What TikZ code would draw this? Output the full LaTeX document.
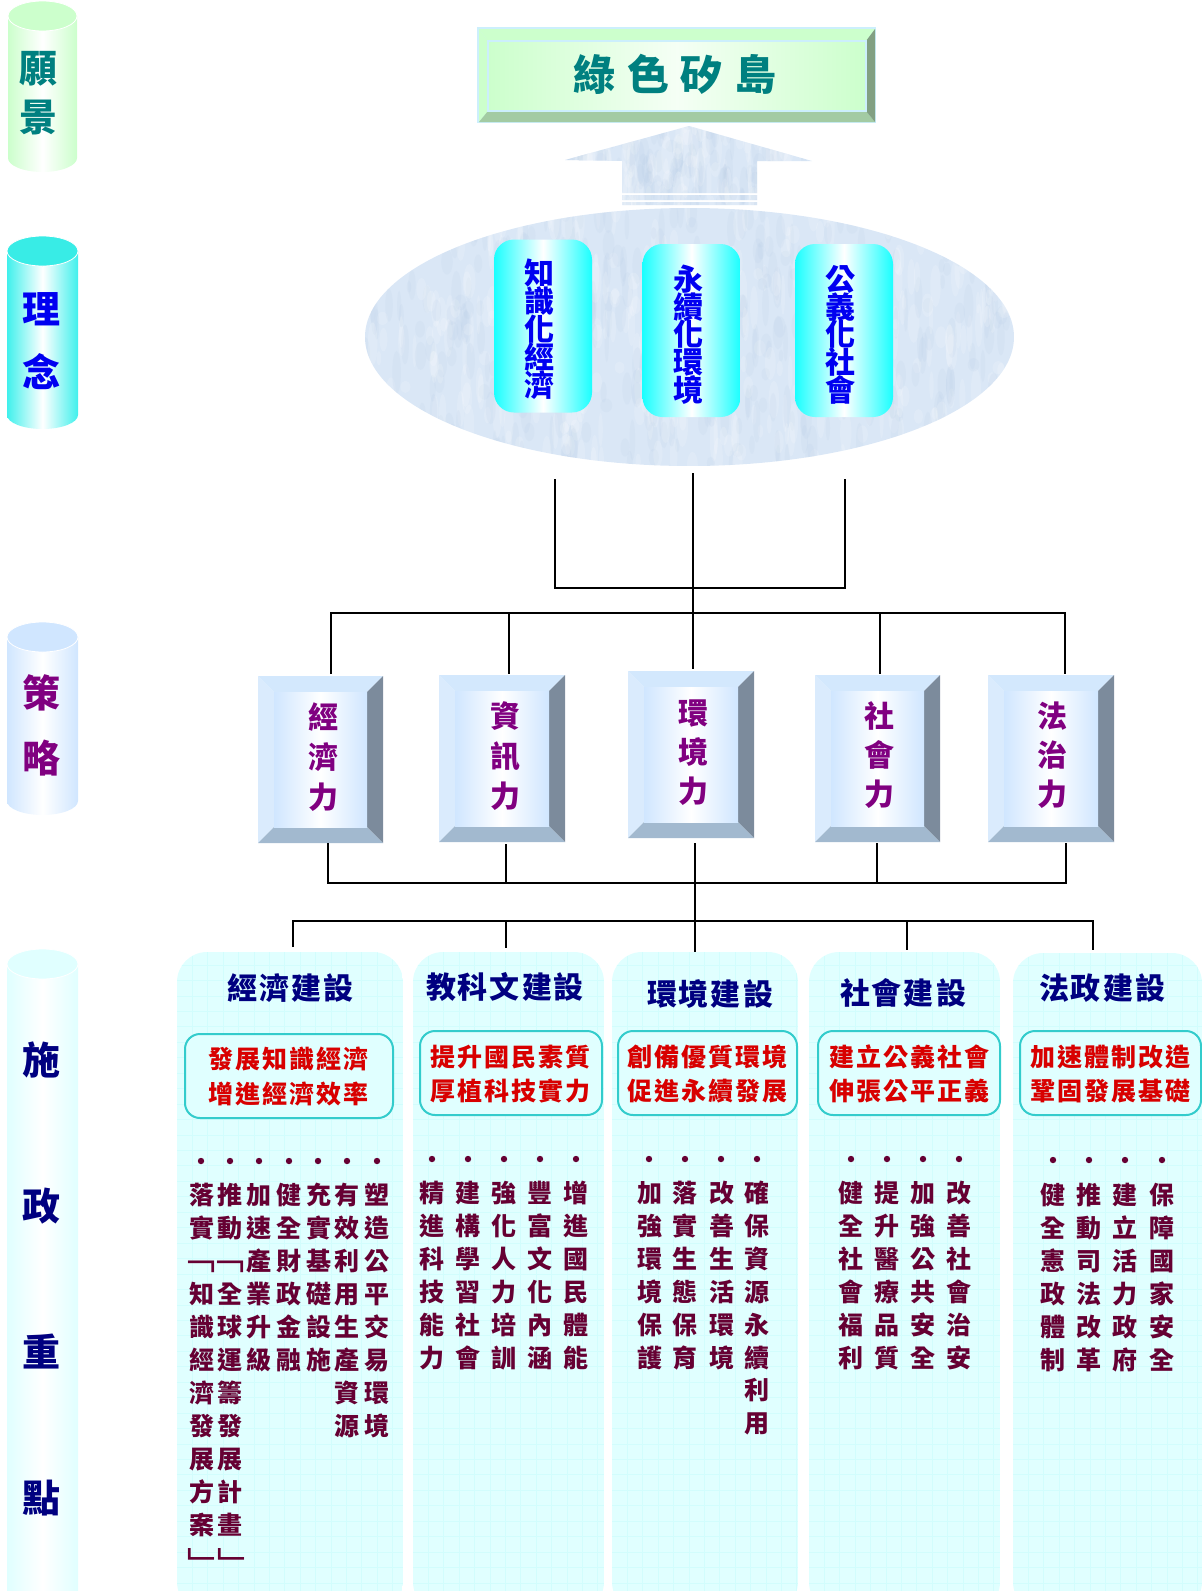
\documentclass[tikz,border=0pt]{standalone}
\usepackage{fontspec}
\setmainfont{Noto Sans CJK TC}
\usetikzlibrary{shapes.geometric}
\definecolor{tealtxt}{HTML}{008080}
\definecolor{bluetxt}{HTML}{0000F0}
\definecolor{purptxt}{HTML}{800080}
\definecolor{navytxt}{HTML}{000080}
\definecolor{redtxt}{HTML}{D80000}
\definecolor{martxt}{HTML}{660033}
\definecolor{pale}{HTML}{E0FFFF}
\definecolor{gridc}{HTML}{D2FDFD}
\definecolor{frame}{HTML}{33CCCC}
\definecolor{texb}{HTML}{DAE7F6}
\definecolor{C2top}{HTML}{38ECE6}
\definecolor{C2side}{HTML}{40F0EC}
\definecolor{GreenA}{HTML}{CCFFCC}
\definecolor{BotG}{HTML}{A3CBA3}
\definecolor{RightG}{HTML}{82A082}
\definecolor{CapC}{HTML}{1AFFFF}
\definecolor{TopB}{HTML}{D3E8FD}
\definecolor{RightB}{HTML}{7C8B9C}
\definecolor{BotB}{HTML}{A2B9CF}
\definecolor{FaceB}{HTML}{D0E6FF}
\definecolor{DarkTex}{HTML}{B4CAE4}
\newlength\vw
\def\vs#1{\ifx#1\relax\else\hbox to \vw{\hss#1\hss}\expandafter\vs\fi}
\def\hs#1{\ifx#1\relax\else\hbox to \vw{\hss#1\hss}\expandafter\hs\fi}
% vertical text: style, name, x, y of first char centre, pitch px, size px, text
\newcommand\vtxt[7]{%
  \pgfmathsetmacro\yb{#4+.38*#6}%
  \pgfmathsetmacro\fs{#6*.5}\pgfmathsetmacro\pitch{#5*.5}%
  \node[lbl,#1] (#2) at (#3,\yb) {\fontsize{\fs pt}{\pitch pt}\selectfont\vw=1.3em\vtop{\baselineskip=\pitch pt\lineskiplimit=-100pt\lineskip=0pt\vs #7\relax}};}
\newcommand\htxt[7]{%
  \pgfmathsetmacro\yb{#4+.38*#6}%
  \pgfmathsetmacro\fs{#6*.5}\pgfmathsetmacro\pitch{#5*.5}%
  \node[lbl,#1] (#2) at (#3,\yb) {\fontsize{\fs pt}{\pitch pt}\selectfont\vw=\pitch pt\hbox{\hs #7\relax}};}
% cylinder: name, x1, y1, x2, y2, side colour, top colour
\newcommand\cyl[7]{%
  \pgfmathsetmacro\xc{(#2+#4)/2}\pgfmathsetmacro\ya{#3+15}\pgfmathsetmacro\yz{#5-14}%
  \pgfmathsetmacro\rx{(#4-#2)/2}\pgfmathsetmacro\kx{.55*\rx}\pgfmathsetmacro\ky{#5-14+7.7}%
  \shade[left color=#6,right color=#6,middle color=white]
    (#2,\ya) -- (#2,\yz) .. controls (#2,\ky) and ({\xc-\kx},#5) .. (\xc,#5)
    .. controls ({\xc+\kx},#5) and (#4,\ky) .. (#4,\yz) -- (#4,\ya) -- cycle;
  \node[ellipse,inner sep=0,minimum width=\rx*1pt,minimum height=15pt,fill=#7,draw=white,line width=.4pt] (#1) at (\xc,\ya) {};}
\tikzset{
  lbl/.style={inner sep=0,anchor=base},
  teal/.style={text=tealtxt,font=\bfseries},
  blu/.style={text=bluetxt,font=\bfseries},
  pur/.style={text=purptxt,font=\bfseries},
  nav/.style={text=navytxt,font=\bfseries},
  rd/.style={text=redtxt,font=\bfseries},
  mar/.style={text=martxt,font=\bfseries},
  mreg/.style={text=martxt},
  capsule/.style={rectangle,rounded corners=10pt,inner sep=0,minimum width=49pt,minimum height=86.5pt,left color=CapC,right color=CapC,middle color=white},
  redbox/.style={rectangle,rounded corners=7.5pt,inner sep=0,draw=frame,line width=1pt,fill=pale},
  bul/.style={circle,fill=martxt,inner sep=0,minimum size=3.2pt},
  wire/.style={line width=1.1pt,black},
  box/.style={rectangle,inner sep=0}
}
\newcommand\blueb[5]{% name x1 y1 x2 y2
  \pgfmathsetmacro\ia{#2+16}\pgfmathsetmacro\ib{#3+16}\pgfmathsetmacro\ic{#4-16}\pgfmathsetmacro\id{#5-16}%
  \fill[TopB] (#2,#3) -- (#4,#3) -- (\ic,\ib) -- (\ia,\ib) -- cycle;
  \fill[TopB!85!white] (#2,#3) -- (\ia,\ib) -- (\ia,\id) -- (#2,#5) -- cycle;
  \fill[RightB] (#4,#3) -- (\ic,\ib) -- (\ic,\id) -- (#4,#5) -- cycle;
  \fill[BotB] (#2,#5) -- (\ia,\id) -- (\ic,\id) -- (#4,#5) -- cycle;
  \shade[left color=FaceB,right color=FaceB,middle color=white] (\ia,\ib) rectangle (\ic,\id);
  \pgfmathsetmacro\cx{(#2+#4)/2}\pgfmathsetmacro\cy{(#3+#5)/2}\pgfmathsetmacro\bw{(#4-#2)*.5}\pgfmathsetmacro\bh{(#5-#3)*.5}%
  \node[box,minimum width=\bw pt,minimum height=\bh pt] (#1) at (\cx,\cy) {};}
\newcommand\panel[4]{% name x1 y1 x2
  \begin{scope}
  \clip[rounded corners=15pt] (#2,#3) rectangle (#4,1612);
  \fill[pale] (#2,#3) rectangle (#4,1612);
  \foreach \k in {1,...,14}{\pgfmathsetmacro\gx{#2+15.4*\k}\draw[gridc,line width=.4pt] (\gx,#3) -- (\gx,1612);}
  \foreach \k in {0,...,42}{\pgfmathsetmacro\gy{1583-15.45*\k}\draw[gridc,line width=.4pt] (#2,\gy) -- (#4,\gy);}
  \end{scope}
  \pgfmathsetmacro\cx{(#2+#4)/2}\pgfmathsetmacro\cy{(#3+1591)/2}\pgfmathsetmacro\bw{(#4-#2)*.5}\pgfmathsetmacro\bh{(1591-#3)*.5}%
  \node[box,minimum width=\bw pt,minimum height=\bh pt] (#1) at (\cx,\cy) {};}
\newcommand\rbox[5]{% name x1 y1 x2 y2
  \pgfmathsetmacro\cx{(#2+#4)/2}\pgfmathsetmacro\cy{(#3+#5)/2}\pgfmathsetmacro\bw{(#4-#2)*.5}\pgfmathsetmacro\bh{(#5-#3)*.5}%
  \node[redbox,minimum width=\bw pt,minimum height=\bh pt] (#1) at (\cx,\cy) {};}
\newcommand\texture[6]{% seed x1 y1 x2 y2 count
  \pgfmathsetseed{#1}
  \foreach \i in {1,...,#6}{
    \pgfmathsetmacro\tx{#2+rnd*(#4-#2)}\pgfmathsetmacro\ty{#3+rnd*(#5-#3)}
    \pgfmathsetmacro\trx{2+rnd*4}\pgfmathsetmacro\try{6+rnd*16}\pgfmathsetmacro\tc{rnd}
    \ifdim\tc pt<.5pt
      \fill[white,opacity=.16] (\tx,\ty) ellipse [x radius=\trx,y radius=\try];
    \else
      \fill[DarkTex,opacity=.13] (\tx,\ty) ellipse [x radius=\trx,y radius=\try];
    \fi}}
\begin{document}
\begin{tikzpicture}[x=.5pt,y=-.5pt]
\useasboundingbox (0,0) rectangle (1202,1591);
\clip (0,0) rectangle (1202,1591);
% left cylinders
\cyl{c1}{8}{1}{77}{172}{GreenA}{GreenA}
\cyl{c2}{7}{236}{78}{429}{C2side}{C2top}
\cyl{c3}{7}{622}{78}{815}{FaceB}{FaceB}
\cyl{c4}{7}{949}{78}{1610}{pale}{pale}
\vtxt{teal}{t11}{39}{68}{49}{38}{願景}
\vtxt{blu}{t21}{41}{309}{63}{38}{理念}
\vtxt{pur}{t31}{42}{693}{65}{38}{策略}
\vtxt{nav}{t41}{41}{1060}{146}{38}{施政重點}
% top box
\fill[cyan!20!white] (477,27) rectangle (876,123);
\fill[GreenA] (479,29) -- (875,29) -- (866,41) -- (488,41) -- cycle;
\fill[GreenA] (479,29) -- (488,41) -- (488,111) -- (479,122) -- cycle;
\fill[BotG] (479,122) -- (488,111) -- (866,111) -- (875,122) -- cycle;
\fill[RightG] (875,29) -- (866,41) -- (866,111) -- (875,122) -- cycle;
\shade[left color=GreenA,right color=GreenA,middle color=GreenA!20!white,draw=cyan!20!white,line width=.8pt] (488,41) rectangle (866,111);
\node[box,minimum width=199.5pt,minimum height=48pt] (vision) at (676.5,75) {};
\htxt{teal}{vt}{675}{75}{53.5}{42}{綠色矽島}
% arrow
\begin{scope}
\clip (689,126) -- (812,161) -- (757,161) -- (757,193) -- (622,193) -- (622,161) -- (565,160) -- cycle
      (622,195) rectangle (757,200) (622,202) rectangle (757,205);
\fill[texb] (560,120) rectangle (815,210);
\texture{3}{560}{120}{815}{210}{250}
\end{scope}
% ellipse
\begin{scope}
\clip (689.5,337) ellipse [x radius=324.5,y radius=129];
\fill[texb] (365,208) rectangle (1014,466);
\texture{5}{365}{208}{1014}{466}{800}
\end{scope}
\node[ellipse,inner sep=0,minimum width=324.5pt,minimum height=129pt] (idea) at (689.5,337) {};
\node[capsule] (k1) at (543,326) {};
\node[capsule] (k2) at (691.5,330.5) {};
\node[capsule] (k3) at (844,330.5) {};
\vtxt{blu}{k1t}{539}{273}{28}{30}{知識化經濟}
\vtxt{blu}{k2t}{688}{279}{27.7}{30}{永續化環境}
\vtxt{blu}{k3t}{840}{279}{27.7}{30}{公義化社會}
% connectors upper
\coordinate (a1) at (555,479); \coordinate (a1b) at (555,588);
\coordinate (a3) at (845,479); \coordinate (a3b) at (845,588);
\coordinate (a2) at (693,473); \coordinate (a2b) at (693,669);
\draw[wire] (a1) -- (a1b) -- (a3b) -- (a3);
\draw[wire] (a2) -- (a2b);
\coordinate (b1) at (331,674); \coordinate (b1t) at (331,613);
\coordinate (b2) at (509,674); \coordinate (b2t) at (509,613);
\coordinate (b4) at (880,674); \coordinate (b4t) at (880,613);
\coordinate (b5) at (1065,674); \coordinate (b5t) at (1065,613);
\draw[wire] (b1) -- (b1t) -- (b5t) -- (b5);
\draw[wire] (b2t) -- (b2);
\draw[wire] (b4t) -- (b4);
% strategy boxes
\blueb{s1}{258}{676}{383}{843}
\blueb{s2}{439}{675}{565}{842}
\blueb{s3}{628}{671}{754}{838}
\blueb{s4}{815}{675}{940}{842}
\blueb{s5}{988}{675}{1114}{842}
\vtxt{pur}{s1t}{323}{717}{40}{30}{經濟力}
\vtxt{pur}{s2t}{505}{716}{40}{30}{資訊力}
\vtxt{pur}{s3t}{693}{713}{39}{30}{環境力}
\vtxt{pur}{s4t}{879}{716}{39}{30}{社會力}
\vtxt{pur}{s5t}{1052}{716}{39}{30}{法治力}
% connectors lower
\coordinate (d1) at (328,843); \coordinate (d1b) at (328,883);
\coordinate (d2) at (506,844); \coordinate (d2b) at (506,883);
\coordinate (d4) at (877,843); \coordinate (d4b) at (877,883);
\coordinate (d5) at (1066,843); \coordinate (d5b) at (1066,883);
\coordinate (d3) at (695,843); \coordinate (d3b) at (695,952);
\draw[wire] (d1) -- (d1b) -- (d5b) -- (d5);
\draw[wire] (d2) -- (d2b);
\draw[wire] (d4) -- (d4b);
\draw[wire] (d3) -- (d3b);
\coordinate (e1) at (293,947); \coordinate (e1t) at (293,921);
\coordinate (e2) at (506,948); \coordinate (e2t) at (506,921);
\coordinate (e4) at (907,950); \coordinate (e4t) at (907,921);
\coordinate (e5) at (1093,950); \coordinate (e5t) at (1093,921);
\draw[wire] (e1) -- (e1t) -- (e5t) -- (e5);
\draw[wire] (e2t) -- (e2);
\draw[wire] (e4t) -- (e4);
% panels
\panel{p1}{177}{952}{403}
\panel{p2}{413}{952}{604}
\panel{p3}{612}{952}{798}
\panel{p4}{809}{952}{1000}
\panel{p5}{1013}{953}{1202}
\htxt{nav}{p1t}{290.5}{988}{32}{30}{經濟建設}
\htxt{nav}{p2t}{505}{987}{32}{30}{教科文建設}
\htxt{nav}{p3t}{710}{994}{32}{30}{環境建設}
\htxt{nav}{p4t}{903}{993}{32}{30}{社會建設}
\htxt{nav}{p5t}{1102}{988}{32}{30}{法政建設}
\rbox{r1}{185}{1034}{393}{1118}
\rbox{r2}{420}{1031}{602}{1115}
\rbox{r3}{618}{1031}{797}{1115}
\rbox{r4}{818}{1031}{1000}{1115}
\rbox{r5}{1020}{1031}{1201}{1115}
\htxt{rd}{r1a}{288}{1059}{27}{25}{發展知識經濟}
\htxt{rd}{r1b}{288}{1094}{27}{25}{增進經濟效率}
\htxt{rd}{r2a}{510}{1057}{27}{25}{提升國民素質}
\htxt{rd}{r2b}{510}{1091}{27}{25}{厚植科技實力}
\htxt{rd}{r3a}{707}{1057}{27}{25}{創備優質環境}
\htxt{rd}{r3b}{707}{1091}{27}{25}{促進永續發展}
\htxt{rd}{r4a}{909}{1057}{27}{25}{建立公義社會}
\htxt{rd}{r4b}{909}{1091}{27}{25}{伸張公平正義}
\htxt{rd}{r5a}{1110}{1057}{27}{25}{加速體制改造}
\htxt{rd}{r5b}{1110}{1091}{27}{25}{鞏固發展基礎}
% bullets
\foreach \n/\x in {1/201,2/230,3/259,4/289,5/318,6/347,7/377}{\node[bul] (ba\n) at (\x,1161) {};}
\foreach \n/\x in {1/432,2/468,3/504,4/540,5/576}{\node[bul] (bb\n) at (\x,1159) {};}
\foreach \n/\x in {1/649,2/685,3/721,4/757}{\node[bul] (bc\n) at (\x,1159) {};}
\foreach \n/\x in {1/851,2/887,3/923,4/959}{\node[bul] (bd\n) at (\x,1159) {};}
\foreach \n/\x in {1/1053,2/1089,3/1125,4/1162}{\node[bul] (be\n) at (\x,1160) {};}
% columns
\vtxt{mar}{ca1a}{202}{1195}{32.95}{25}{落實}
\vtxt{mreg}{ca1b}{196.7}{1255}{33}{37}{﹁}
\vtxt{mar}{ca1c}{202}{1293.85}{32.95}{25}{知識經濟發展方案}
\vtxt{mreg}{ca1d}{205.5}{1565}{33}{37}{﹂}
\vtxt{mar}{ca2a}{230}{1195}{32.95}{25}{推動}
\vtxt{mreg}{ca2b}{226.2}{1255}{33}{37}{﹁}
\vtxt{mar}{ca2c}{230}{1293.85}{32.95}{25}{全球運籌發展計畫}
\vtxt{mreg}{ca2d}{235.5}{1565}{33}{37}{﹂}
\vtxt{mar}{ca3}{259}{1195}{32.95}{25}{加速產業升級}
\vtxt{mar}{ca4}{289}{1195}{32.95}{25}{健全財政金融}
\vtxt{mar}{ca5}{319}{1195}{32.95}{25}{充實基礎設施}
\vtxt{mar}{ca6}{347}{1195}{32.95}{25}{有效利用生產資源}
\vtxt{mar}{ca7}{377}{1195}{32.95}{25}{塑造公平交易環境}
\vtxt{mar}{cb1}{432}{1193}{33}{25}{精進科技能力}
\vtxt{mar}{cb2}{468}{1193}{33}{25}{建構學習社會}
\vtxt{mar}{cb3}{504}{1193}{33}{25}{強化人力培訓}
\vtxt{mar}{cb4}{540}{1193}{33}{25}{豐富文化內涵}
\vtxt{mar}{cb5}{576}{1193}{33}{25}{增進國民體能}
\vtxt{mar}{cc1}{650}{1193}{32.9}{25}{加強環境保護}
\vtxt{mar}{cc2}{685}{1193}{32.9}{25}{落實生態保育}
\vtxt{mar}{cc3}{722}{1193}{32.9}{25}{改善生活環境}
\vtxt{mar}{cc4}{757}{1193}{32.9}{25}{確保資源永續利用}
\vtxt{mar}{cd1}{851}{1193}{33}{25}{健全社會福利}
\vtxt{mar}{cd2}{887}{1193}{33}{25}{提升醫療品質}
\vtxt{mar}{cd3}{923}{1193}{33}{25}{加強公共安全}
\vtxt{mar}{cd4}{959}{1193}{33}{25}{改善社會治安}
\vtxt{mar}{ce1}{1053}{1195}{33}{25}{健全憲政體制}
\vtxt{mar}{ce2}{1089}{1195}{33}{25}{推動司法改革}
\vtxt{mar}{ce3}{1125}{1195}{33}{25}{建立活力政府}
\vtxt{mar}{ce4}{1162}{1195}{33}{25}{保障國家安全}
\end{tikzpicture}
\end{document}
